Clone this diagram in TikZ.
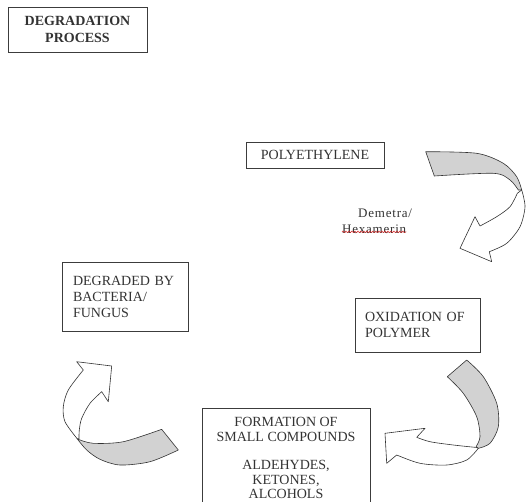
\documentclass[tikz,border=0pt]{standalone}
\usepackage{fontspec}
\setmainfont{Liberation Serif}
\usepackage{tikz}
\usetikzlibrary{decorations.pathmorphing}
\definecolor{ink}{HTML}{333333}
\definecolor{boxline}{HTML}{3C3C3C}
\definecolor{bandgray}{HTML}{D2D2D2}
\definecolor{spellred}{HTML}{D42020}

\begin{document}
\begin{tikzpicture}[x=1pt,y=-1pt,
    stage/.style={draw=boxline,line width=0.9pt,inner sep=0pt,
      font=\fontsize{14}{16}\selectfont,text=ink},
    note/.style={font=\fontsize{13}{15}\selectfont\addfontfeature{LetterSpace=6},
      text=ink,inner sep=0pt,anchor=base west},
    ribbon/.style={draw=ink,line width=0.6pt,line join=round},
    ribbonback/.style={ribbon,fill=bandgray},
    ribbonfront/.style={ribbon,fill=white}]
  \useasboundingbox (0,0) rectangle (526,501);

  % Boxes of the cycle.
  \node[stage,font=\fontsize{14}{17}\selectfont\bfseries,align=center,
        minimum width=139,minimum height=45] (title) at (77.5,29.5)
    {DEGRADATION\\PROCESS};
  \node[stage,minimum width=138,minimum height=26] (poly) at (315,155)
    {POLYETHYLENE};
  \node[stage,text width=105,inner xsep=10,align=left,
        minimum height=54] (oxid) at (417.5,325)
    {OXIDATION OF\\POLYMER};
  \node[stage,minimum width=168,inner ysep=9,align=center,anchor=north,
        font=\fontsize{14}{14.5}\selectfont] (small) at (286,408)
    {FORMATION OF\\SMALL COMPOUNDS\\[14pt]ALDEHYDES,\\KETONES,\\ALCOHOLS};
  \node[stage,text width=104,inner xsep=11,align=left,
        minimum height=69] (degr) at (125,296.5)
    {DEGRADED BY\\BACTERIA/\\FUNGUS\\[2pt]};

  % Enzyme note, with its spell-check underline.
  \node[note] (demetra) at (358,217) {Demetra/};
  \node[note] (hexa) at (342,233) {Hexamerin};
  \draw[spellred,line width=0.5pt,decorate,
        decoration={snake,amplitude=0.8pt,segment length=3pt}]
    (hexa.south west) ++(0,-1.5) -- ([yshift=1.5pt]hexa.south east);

  % Curved ribbon arrow: polyethylene -> oxidation.
  \filldraw[ribbonback]
    plot[smooth] coordinates {(425.7,151.7) (476.7,153.3) (503.3,163.3) (516.7,176.7) (521.7,190)}
    -- plot[smooth] coordinates {(518.3,190) (510,180) (493.3,173.3) (434.3,176)}
    -- cycle;
  \filldraw[ribbonfront]
    plot[smooth] coordinates {(521.7,190) (525,206.7) (520,226.7) (506.7,243.3) (489.3,251.7)}
    -- (491.7,261.7) -- (460,248.3) -- (475,216.7)
    -- plot[smooth] coordinates {(480,226) (496.7,216.7) (510,206.7) (517.3,193.3)}
    -- cycle;

  % Curved ribbon arrow: oxidation -> small compounds.
  \filldraw[ribbonback]
    (447.3,376.7) -- plot[smooth] coordinates {(466.7,360) (483.3,376.7) (496.7,403.3) (498.3,426.7) (490,443.3) (478.3,448.3)}
    -- plot[smooth] coordinates {(476,446.7) (480,436.7) (476.7,416.7) (463.3,393.3) (447.3,376.7)}
    -- cycle;
  \filldraw[ribbonfront]
    plot[smooth] coordinates {(477,447.5) (453.3,445) (430,441.7) (416.7,437.3)}
    -- (425,428.3) -- (385,433.3) -- (386.7,463.3)
    -- plot[smooth] coordinates {(396.7,455) (420,463.3) (446.7,465) (466.7,460) (478.3,448.3)}
    -- cycle;

  % Curved ribbon arrow: small compounds -> degraded.
  \filldraw[ribbonback]
    (161.7,429.3) -- plot[smooth] coordinates {(178.3,450) (150,461.7) (120,465) (100,459.3) (86.7,450) (77,438.5)}
    -- plot[smooth] coordinates {(78.3,439.3) (93.3,443.3) (123.3,441.7) (161.7,429.3)}
    -- cycle;
  \filldraw[ribbonfront]
    plot[smooth] coordinates {(77,438.5) (65,421.7) (63.3,406.7) (68.3,390) (83.3,370)}
    -- (76.7,361.7) -- (111.7,366) -- (108.3,401.7)
    -- plot[smooth] coordinates {(101.7,391.7) (90,403.3) (81.7,418.3) (79.3,430) (79,439)}
    -- cycle;
\end{tikzpicture}
\end{document}
